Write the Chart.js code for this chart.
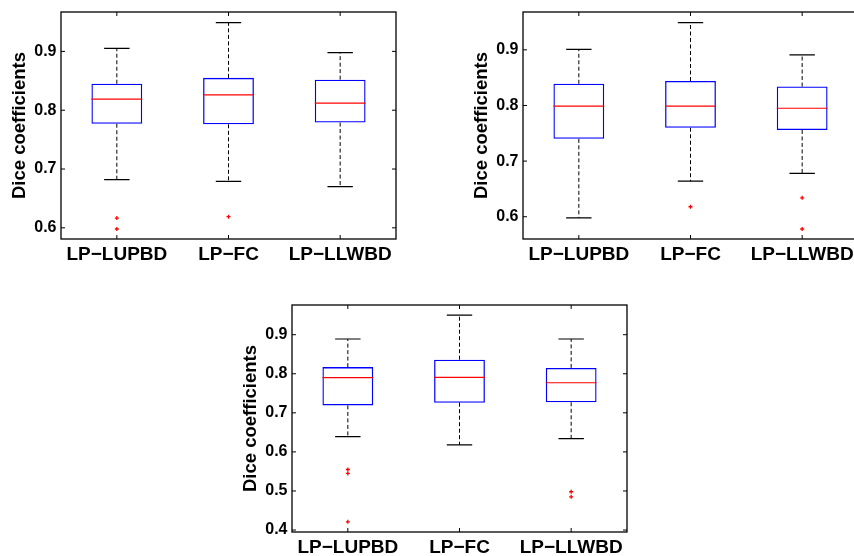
<!DOCTYPE html>
<html>
<head>
<meta charset="utf-8">
<title>Dice coefficients</title>
<script src="https://cdn.jsdelivr.net/npm/chart.js@4.4.1/dist/chart.umd.min.js"></script>
<style>
  html, body { margin: 0; padding: 0; background: #fff; }
  body { width: 854px; height: 556px; overflow: hidden; position: relative; }
  canvas { position: absolute; }
</style>
</head>
<body>
<canvas id="panelA" width="400" height="270" style="left:0px;top:0px"></canvas>
<canvas id="panelB" width="400" height="270" style="left:462px;top:0px"></canvas>
<canvas id="panelC" width="400" height="270" style="left:231px;top:293px"></canvas>
<script>
// Box plot summaries of Dice coefficients for three methods, three experiments

const categories = ["LP\u2212LUPBD", "LP\u2212FC", "LP\u2212LLWBD"];

// experiment A
const upperA   = [0.905, 0.949, 0.898];
const q3A      = [0.845, 0.855, 0.852];
const medianA  = [0.819, 0.826, 0.812];
const q1A      = [0.777, 0.776, 0.779];
const lowerA   = [0.682, 0.679, 0.670];
const outliersA = [[0.6165, 0.598], [0.619], []];
const yRangeA  = [0.581, 0.967];

// experiment B
const upperB   = [0.901, 0.949, 0.891];
const q3B      = [0.839, 0.844, 0.834];
const medianB  = [0.799, 0.799, 0.795];
const q1B      = [0.740, 0.760, 0.756];
const lowerB   = [0.598, 0.664, 0.678];
const outliersB = [[], [0.618], [0.634, 0.578]];
const yRangeB  = [0.560, 0.968];

// experiment C
const upperC   = [0.889, 0.950, 0.889];
const q3C      = [0.817, 0.836, 0.815];
const medianC  = [0.790, 0.791, 0.777];
const q1C      = [0.719, 0.726, 0.727];
const lowerC   = [0.639, 0.618, 0.634];
const outliersC = [[0.555, 0.545, 0.421], [], [0.498, 0.485]];
const yRangeC  = [0.395, 0.976];

const yTicksAB = [0.6, 0.7, 0.8, 0.9];
const yTicksC  = [0.4, 0.5, 0.6, 0.7, 0.8, 0.9];

const FONT = "'Liberation Sans', Arial, Helvetica, sans-serif";

// whiskers, caps and medians, placed with the chart's own scales
const whiskerPlugin = {
    id: "whiskers",
    afterDatasetsDraw(chart, args, opts) {
        const ctx = chart.ctx;
        const x = chart.scales.x, y = chart.scales.y;
        const bars = chart.getDatasetMeta(0).data;
        ctx.save();
        for (let i = 0; i < categories.length; i++) {
            const cx = x.getPixelForValue(i);
            const half = bars[i].width / 2;
            const cap = half / 2;
            // dashed whiskers
            ctx.strokeStyle = "#000";
            ctx.lineWidth = 1;
            ctx.setLineDash([4, 2.5]);
            ctx.beginPath();
            ctx.moveTo(cx, y.getPixelForValue(opts.q3[i]));
            ctx.lineTo(cx, y.getPixelForValue(opts.upper[i]));
            ctx.moveTo(cx, y.getPixelForValue(opts.q1[i]));
            ctx.lineTo(cx, y.getPixelForValue(opts.lower[i]));
            ctx.stroke();
            // caps
            ctx.setLineDash([]);
            ctx.lineWidth = 1.2;
            ctx.beginPath();
            const yu = y.getPixelForValue(opts.upper[i]);
            const yl = y.getPixelForValue(opts.lower[i]);
            ctx.moveTo(cx - cap, yu); ctx.lineTo(cx + cap, yu);
            ctx.moveTo(cx - cap, yl); ctx.lineTo(cx + cap, yl);
            ctx.stroke();
            // median
            ctx.strokeStyle = "#ff0000";
            ctx.beginPath();
            const ym = y.getPixelForValue(opts.median[i]);
            ctx.moveTo(cx - half, ym); ctx.lineTo(cx + half, ym);
            ctx.stroke();
        }
        ctx.restore();
    }
};

// closed axes box with inward tick marks on all four sides
const framePlugin = {
    id: "frame",
    afterDraw(chart) {
        const ctx = chart.ctx;
        const a = chart.chartArea;
        const x = chart.scales.x, y = chart.scales.y;
        const len = 4;
        ctx.save();
        ctx.strokeStyle = "#000";
        ctx.lineWidth = 1.3;
        ctx.strokeRect(a.left, a.top, a.right - a.left, a.bottom - a.top);
        ctx.lineWidth = 1;
        ctx.beginPath();
        y.ticks.forEach(t => {
            const py = y.getPixelForValue(t.value);
            ctx.moveTo(a.left, py); ctx.lineTo(a.left + len, py);
            ctx.moveTo(a.right, py); ctx.lineTo(a.right - len, py);
        });
        categories.forEach((c, i) => {
            const px = x.getPixelForValue(i);
            ctx.moveTo(px, a.bottom); ctx.lineTo(px, a.bottom - len);
            ctx.moveTo(px, a.top); ctx.lineTo(px, a.top + len);
        });
        ctx.stroke();
        ctx.restore();
    }
};

function noEdgePadding(s) {
    s.paddingLeft = 0; s.paddingRight = 0;
    s.paddingTop = 0; s.paddingBottom = 0;
}

function makePanel(id, upper, q3, median, q1, lower, outliers, yRange, yTicks) {
    const boxes = q1.map((v, i) => [v, q3[i]]);
    const points = [];
    outliers.forEach((list, i) => list.forEach(v => points.push({ x: categories[i], y: v })));

    return new Chart(document.getElementById(id), {
        type: "bar",
        data: {
            labels: categories,
            datasets: [
                {
                    data: boxes,
                    backgroundColor: "rgba(0,0,0,0)",
                    borderColor: "#0000ff",
                    borderWidth: 1.3,
                    borderSkipped: false,
                    barPercentage: 0.455,
                    categoryPercentage: 1
                },
                {
                    type: "line",
                    data: points,
                    showLine: false,
                    pointStyle: "cross",
                    pointRadius: 2,
                    pointBorderWidth: 1.3,
                    pointBorderColor: "#ff0000",
                    pointBackgroundColor: "#ff0000"
                }
            ]
        },
        options: {
            responsive: false,
            animation: false,
            devicePixelRatio: 1,
            layout: { autoPadding: false, padding: { top: 12, right: 4, left: 0, bottom: 0 } },
            plugins: {
                legend: { display: false },
                tooltip: { enabled: false },
                whiskers: { upper, q3, median, q1, lower }
            },
            scales: {
                x: {
                    grid: { display: false, drawTicks: false },
                    border: { display: false },
                    ticks: {
                        color: "#000",
                        font: { family: FONT, size: 19, weight: "bold" },
                        padding: 4,
                        maxRotation: 0,
                        autoSkip: false
                    },
                    afterFit(s) { s.height = 31; noEdgePadding(s); }
                },
                y: {
                    min: yRange[0],
                    max: yRange[1],
                    grid: { display: false, drawTicks: false },
                    border: { display: false },
                    ticks: {
                        color: "#000",
                        font: { family: FONT, size: 16, weight: "bold" },
                        padding: 4.5,
                        callback: v => v.toFixed(1)
                    },
                    afterBuildTicks(s) { s.ticks = yTicks.map(v => ({ value: v })); },
                    afterFit(s) { s.width = 61; noEdgePadding(s); },
                    title: {
                        display: true,
                        text: "Dice coefficients",
                        color: "#000",
                        font: { family: FONT, size: 18.5, weight: "bold" },
                        padding: { top: 9, bottom: 0 }
                    }
                }
            }
        },
        plugins: [whiskerPlugin, framePlugin]
    });
}

makePanel("panelA", upperA, q3A, medianA, q1A, lowerA, outliersA, yRangeA, yTicksAB);
makePanel("panelB", upperB, q3B, medianB, q1B, lowerB, outliersB, yRangeB, yTicksAB);
makePanel("panelC", upperC, q3C, medianC, q1C, lowerC, outliersC, yRangeC, yTicksC);
</script>
</body>
</html>
